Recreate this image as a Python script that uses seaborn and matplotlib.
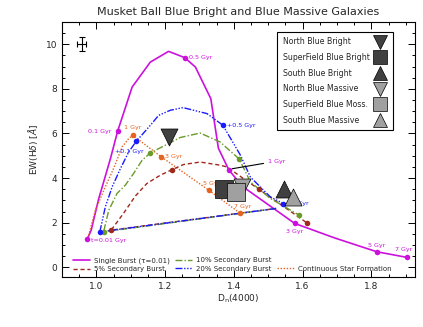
import numpy as np
import pandas as pd
import matplotlib
matplotlib.use('Agg')
import matplotlib.pyplot as plt
from matplotlib.lines import Line2D
from matplotlib.ticker import MultipleLocator
import seaborn as sns

# model tracks: D_n(4000), EW(Hdelta)
single_x = [0.973, 0.985, 1.007, 1.017, 1.041, 1.062, 1.104, 1.157, 1.21, 1.257, 1.288,
            1.333, 1.355, 1.385, 1.424, 1.577, 1.695, 1.816, 1.903]
single_y = [1.25, 1.67, 3.09, 3.61, 4.88, 6.11, 8.08, 9.2, 9.68, 9.4, 8.98,
            7.56, 5.34, 4.38, 3.64, 1.97, 1.31, 0.70, 0.45]
single_dot_x = [0.973, 1.062, 1.257, 1.385, 1.577, 1.816, 1.903]
single_dot_y = [1.25, 6.11, 9.4, 4.38, 1.97, 0.70, 0.45]

b20_x = [1.523, 1.01, 1.026, 1.046, 1.07, 1.094, 1.116, 1.135, 1.16, 1.181, 1.215, 1.252,
         1.322, 1.368, 1.419, 1.448, 1.506, 1.544]
b20_y = [2.64, 1.59, 2.71, 3.61, 4.43, 5.17, 5.65, 5.98, 6.42, 6.81, 7.04, 7.16,
         6.89, 6.37, 5.03, 4.05, 3.16, 2.86]
b20_dot_x = [1.01, 1.116, 1.368, 1.544]
b20_dot_y = [1.59, 5.65, 6.37, 2.86]

b10_x = [1.523, 1.021, 1.036, 1.06, 1.084, 1.108, 1.133, 1.157, 1.21, 1.244, 1.302,
         1.36, 1.416, 1.448, 1.506, 1.59]
b10_y = [2.64, 1.59, 2.56, 3.31, 3.68, 4.2, 4.8, 5.13, 5.55, 5.82, 6.02,
         5.62, 4.85, 3.83, 3.09, 2.34]
b10_dot_x = [1.021, 1.157, 1.416, 1.59]
b10_dot_y = [1.59, 5.13, 4.85, 2.34]

b5_x = [1.523, 1.043, 1.079, 1.113, 1.147, 1.186, 1.22, 1.254, 1.302, 1.36, 1.38,
        1.428, 1.474, 1.612]
b5_y = [2.64, 1.67, 2.42, 3.19, 3.76, 4.13, 4.38, 4.61, 4.72, 4.58, 4.5,
        3.98, 3.49, 2.0]
b5_dot_x = [1.043, 1.22, 1.474, 1.612]
b5_dot_y = [1.67, 4.38, 3.49, 2.0]

csf_x = [0.975, 0.997, 1.026, 1.05, 1.075, 1.094, 1.106, 1.189, 1.327, 1.419]
csf_y = [1.3, 2.56, 3.61, 4.43, 5.4, 5.77, 5.92, 4.95, 3.46, 2.42]
csf_dot_x = [1.106, 1.189, 1.327, 1.419]
csf_dot_y = [5.92, 4.95, 3.46, 2.42]

# galaxy samples
gal_names = ['North Blue Bright', 'SuperField Blue Bright', 'South Blue Bright',
             'North Blue Massive', 'SuperField Blue Moss.', 'South Blue Massive']
gal_x = [1.21, 1.37, 1.547, 1.424, 1.407, 1.571]
gal_y = [5.84, 3.53, 3.49, 3.58, 3.38, 3.16]
gal_marker = ['v', 's', '^', 'v', 's', '^']
gal_color = ['#404040', '#404040', '#404040', '#a0a0a0', '#a0a0a0', '#a0a0a0']

err_x, err_y = 0.958, 10.0
err_dx, err_dy = 0.013, 0.31

MAG = '#cc11dd'
BLUE = '#1a1aff'
GREEN = '#6a9a2a'
RED = '#a0281a'
ORANGE = '#e2641e'

LS_CSF = (0, (1, 1.2))
LS_5 = (0, (3, 2))
LS_10 = (0, (5, 1.5, 1, 1.5))
LS_20 = (0, (5, 1.2, 1, 1.2, 1, 1.2, 1, 1.2))

sns.set_style('ticks')
plt.rcParams['font.family'] = ['DejaVu Sans']

fig = plt.figure(figsize=(4.23, 3.27), dpi=100)
ax = fig.add_axes([0.1466, 0.153, 0.8344, 0.780])

tracks = [
    (single_x, single_y, MAG, '-', 1.2),
    (csf_x, csf_y, ORANGE, LS_CSF, 1.0),
    (b5_x, b5_y, RED, LS_5, 1.0),
    (b10_x, b10_y, GREEN, LS_10, 1.0),
    (b20_x, b20_y, BLUE, LS_20, 1.0),
]
for tx, ty, c, ls, lw in tracks:
    d = pd.DataFrame({'x': tx, 'y': ty})
    sns.lineplot(data=d, x='x', y='y', sort=False, estimator=None, color=c,
                 linestyle=ls, linewidth=lw, ax=ax)

dots = [(single_dot_x, single_dot_y, MAG), (csf_dot_x, csf_dot_y, ORANGE),
        (b5_dot_x, b5_dot_y, RED), (b10_dot_x, b10_dot_y, GREEN),
        (b20_dot_x, b20_dot_y, BLUE)]
for dx, dy, c in dots:
    sns.scatterplot(x=dx, y=dy, color=c, s=16, linewidth=0, ax=ax, zorder=4)

for gx, gy, m, c in zip(gal_x, gal_y, gal_marker, gal_color):
    sns.scatterplot(x=[gx], y=[gy], marker=m, color=c, s=150, edgecolor='black',
                    linewidth=0.5, ax=ax, zorder=5)

ax.errorbar([err_x], [err_y], xerr=[err_dx], yerr=[err_dy], color='black',
            capsize=2, lw=0.8, capthick=0.8)

# track labels
fs = 4.6
ax.text(0.985, 1.22, 't=0.01 Gyr', color=MAG, fontsize=fs, va='center', ha='left')
ax.text(1.045, 6.11, '0.1 Gyr', color=MAG, fontsize=fs, va='center', ha='right')
ax.text(1.27, 9.4, '0.5 Gyr', color=MAG, fontsize=fs, va='center', ha='left')
ax.annotate('1 Gyr', xy=(1.395, 4.42), xytext=(1.50, 4.76), color=MAG, fontsize=fs,
            va='center', ha='left',
            arrowprops=dict(arrowstyle='-', color='black', lw=0.8, shrinkA=1, shrinkB=0))
ax.text(1.577, 1.62, '3 Gyr', color=MAG, fontsize=fs, va='center', ha='center')
ax.text(1.816, 1.0, '5 Gyr', color=MAG, fontsize=fs, va='center', ha='center')
ax.text(1.895, 0.78, '7 Gyr', color=MAG, fontsize=fs, va='center', ha='center')

ax.text(1.106, 6.25, '1 Gyr', color=ORANGE, fontsize=fs, va='center', ha='center')
ax.text(1.2, 4.95, '3 Gyr', color=ORANGE, fontsize=fs, va='center', ha='left')
ax.text(1.335, 3.75, '5 Gyr', color=ORANGE, fontsize=fs, va='center', ha='center')
ax.text(1.425, 2.72, '7 Gyr', color=ORANGE, fontsize=fs, va='center', ha='center')

ax.text(1.095, 5.2, '+0.1 Gyr', color=BLUE, fontsize=fs, va='center', ha='center')
ax.text(1.38, 6.37, '+0.5 Gyr', color=BLUE, fontsize=fs, va='center', ha='left')
ax.text(1.552, 2.86, '+1 Gyr', color=BLUE, fontsize=fs, va='center', ha='left')

ax.set_xlim(0.9, 1.927)
ax.set_ylim(-0.43, 11.0)
ax.xaxis.set_major_locator(MultipleLocator(0.2))
ax.xaxis.set_minor_locator(MultipleLocator(0.05))
ax.yaxis.set_major_locator(MultipleLocator(2))
ax.yaxis.set_minor_locator(MultipleLocator(0.5))
ax.tick_params(which='both', direction='in', top=True, right=True, labelsize=6.5,
               color='black', width=0.7)
ax.tick_params(which='major', length=5)
ax.tick_params(which='minor', length=2.5)
for sp in ax.spines.values():
    sp.set_linewidth(0.8)
    sp.set_color('black')

ax.set_xlabel('D$_\\mathregular{n}$(4000)', fontsize=6.5, labelpad=1)
ax.set_ylabel('EW(H$\\delta$) [$\\AA$]', fontsize=6.5, labelpad=4)
ax.set_title('Musket Ball Blue Bright and Blue Massive Galaxies', fontsize=8, pad=5)

# galaxy legend (text left, marker right)
leg_fs = 5.6
gh = [Line2D([], [], marker=m, color=c, markeredgecolor='black', markeredgewidth=0.5,
             linestyle='none', markersize=10)
      for m, c in zip(gal_marker, gal_color)]
leg1 = ax.legend(gh, gal_names, loc='upper right', bbox_to_anchor=(0.938, 0.961),
                 borderaxespad=0, markerfirst=False, fontsize=leg_fs, frameon=True,
                 fancybox=False, edgecolor='black', framealpha=1, labelspacing=0.86,
                 handletextpad=0.3, borderpad=0.7, handlelength=2.0)
leg1.get_frame().set_linewidth(0.8)
ax.add_artist(leg1)

# track legend
th = [Line2D([], [], color=MAG, lw=1.2),
      Line2D([], [], color=RED, lw=1.0, linestyle=LS_5),
      Line2D([], [], color=GREEN, lw=1.0, linestyle=LS_10),
      Line2D([], [], color=BLUE, lw=1.0, linestyle=LS_20),
      Line2D([], [], color='none'),
      Line2D([], [], color=ORANGE, lw=1.0, linestyle=LS_CSF)]
tl = ['Single Burst (τ=0.01)', '5% Secondary Burst', '10% Secondary Burst',
      '20% Secondary Burst', '', 'Continuous Star Formation']
ax.legend(th, tl, loc='lower left', bbox_to_anchor=(0.031, 0.019), borderaxespad=0,
          borderpad=0, ncol=3, fontsize=5.0, frameon=False, handlelength=2.45,
          handletextpad=0.6, columnspacing=0.75, labelspacing=0.35)

# left-align the galaxy legend labels while keeping markers in one column
fig.canvas.draw()
r = fig.canvas.get_renderer()
col = leg1._legend_handle_box.get_children()[0]
items = col.get_children()
ws = [it.get_children()[0].get_bbox(r).width for it in items]
mw = max(ws)
for it, w in zip(items, ws):
    it.sep = 0.3 * leg_fs + (mw - w) / r.points_to_pixels(1.0)
col.align = 'left'

fig.savefig('out.png', dpi=100)
